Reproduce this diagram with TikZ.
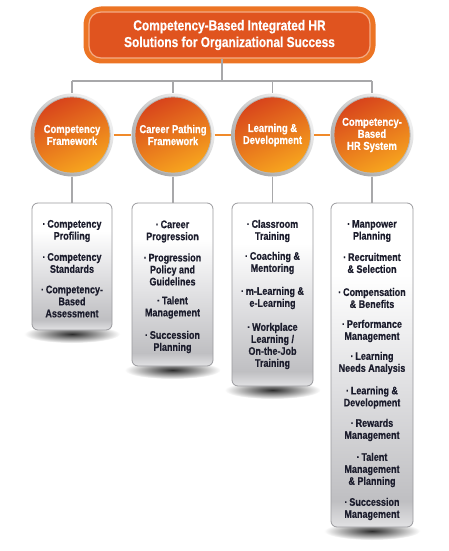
\documentclass[tikz,border=0pt]{standalone}
\usepackage{fontspec}
\setmainfont{Liberation Sans}[FakeStretch=0.82, BoldFeatures={FakeBold=0.5}]
\definecolor{ink}{HTML}{1B1C2C}
\definecolor{gline}{HTML}{A8A8AA}
\definecolor{oline}{HTML}{F08A2A}
\definecolor{topout}{HTML}{EC7424}
\definecolor{topin}{HTML}{E0541F}
\definecolor{toprim}{HTML}{F4AD86}
\definecolor{orgdark}{HTML}{D8451C}
\definecolor{orglight}{HTML}{F7A51E}
\definecolor{bxdark}{HTML}{BFBFC2}
\definecolor{bxmid}{HTML}{E2E2E4}
\definecolor{bxedge}{HTML}{9A9A9E}
\pgfdeclareverticalshading{boxshade}{100bp}{color(0bp)=(bxmid); color(25bp)=(bxmid); color(29bp)=(bxdark); color(48bp)=(bxmid); color(64bp)=(white); color(100bp)=(white)}
\begin{document}
\begin{tikzpicture}[x=1pt,y=-1pt,
  topbox/.style={rounded corners=12pt, minimum width=281pt, minimum height=46pt,
    fill=topin, draw=toprim, line width=1.2pt, line join=round,
    preaction={draw=topout, line width=11pt},
    text=white, align=center, font=\bfseries\fontsize{14.5}{16.7}\selectfont},
  circ/.style={circle, minimum size=83pt, inner sep=0pt,
    shading=axis, top color=gray!8, bottom color=gray!70, shading angle=-45,
    path picture={
      \fill[gray!55] (path picture bounding box.center) circle (38.6pt);
      \shade[top color=orgdark, bottom color=orglight, shading angle=25]
        (path picture bounding box.center) circle (37.6pt);},
    text=white, align=center, font=\bfseries\fontsize{11.5}{12}\selectfont},
  listbox/.style={rounded corners=6pt, draw=bxedge, line width=0.8pt, shading=boxshade},
  item/.style={align=center, inner sep=0pt, text=ink, font=\bfseries\fontsize{11}{12}\selectfont},
  gconn/.style={draw=gline, line width=1.6pt},
  oconn/.style={draw=oline, line width=1.6pt},
  shadow/.style={inner color=gray!35!black, outer color=white}
]
\useasboundingbox (0,0) rectangle (448,551);
\fill[white] (0,0) rectangle (448,551);

% shadows under list boxes
\shade[shadow] (72,334) ellipse (48pt and 9pt);
\shade[shadow] (172.5,370) ellipse (48pt and 9pt);
\shade[shadow] (272.5,390) ellipse (48pt and 9pt);
\shade[shadow] (372,531) ellipse (48pt and 9pt);

% header
\node[topbox] (top) at (229.5,35) {Competency-Based Integrated HR\\Solutions for Organizational Success};

% circles
\coordinate (hub) at (222,81);
\node[circ] (c1) at (72,135) {Competency\\Framework};
\node[circ] (c2) at (173,135) {Career Pathing\\Framework};
\node[circ] (c3) at (272.5,135) {Learning \&\\Development};
\node[circ] (c4) at (372,135) {Competency-\\Based\\HR System};

% list boxes
\node[listbox, minimum width=80pt, minimum height=127pt] (b1) at (72,266.5) {};
\node[listbox, minimum width=81pt, minimum height=163pt] (b2) at (172.5,284.5) {};
\node[listbox, minimum width=81pt, minimum height=183pt] (b3) at (272.5,294.5) {};
\node[listbox, minimum width=82pt, minimum height=324pt] (b4) at (372,365) {};

% connectors
\draw[gconn] (hub |- top.south) -- (hub);
\draw[gconn] (c1.north |- hub) -- (c4.north |- hub);
\draw[gconn] (c1.north |- hub) -- (c1.north);
\draw[gconn] (c2.north |- hub) -- (c2.north);
\draw[gconn] (c3.north |- hub) -- (c3.north);
\draw[gconn] (c4.north |- hub) -- (c4.north);
\draw[gconn] (c1.south) -- (c1.south |- b1.north);
\draw[gconn] (c2.south) -- (c2.south |- b2.north);
\draw[gconn] (c3.south) -- (c3.south |- b3.north);
\draw[gconn] (c4.south) -- (c4.south |- b4.north);
\draw[oconn] (c1.east) -- (c2.west);
\draw[oconn] (c2.east) -- (c3.west);
\draw[oconn] (c3.east) -- (c4.west);

% box 1 items
\node[item] (i11) at (72,231) {·\,Competency\\Profiling};
\node[item] (i12) at (72,263) {·\,Competency\\Standards};
\node[item] (i13) at (72,301.5) {·\,Competency-\\Based\\Assessment};
% box 2 items
\node[item] (i21) at (172.5,231.5) {·\,Career\\Progression};
\node[item] (i22) at (172.5,269.5) {·\,Progression\\Policy and\\Guidelines};
\node[item] (i23) at (172.5,307.5) {·\,Talent\\Management};
\node[item] (i24) at (172.5,342) {·\,Succession\\Planning};
% box 3 items
\node[item] (i31) at (272.5,231) {·\,Classroom\\Training};
\node[item] (i32) at (272.5,263) {·\,Coaching \&\\Mentoring};
\node[item] (i33) at (272.5,298) {·\,m-Learning \&\\e-Learning};
\node[item] (i34) at (272.5,346) {·\,Workplace\\Learning /\\On-the-Job\\Training};
% box 4 items
\node[item] (i41) at (372,231) {·\,Manpower\\Planning};
\node[item] (i42) at (372,263) {·\,Recruitment\\\& Selection};
\node[item] (i43) at (372,298) {·\,Compensation\\\& Benefits};
\node[item] (i44) at (372,331) {·\,Performance\\Management};
\node[item] (i45) at (372,363) {·\,Learning\\Needs Analysis};
\node[item] (i46) at (372,397.5) {·\,Learning \&\\Development};
\node[item] (i47) at (372,430) {·\,Rewards\\Management};
\node[item] (i48) at (372,470) {·\,Talent\\Management\\\& Planning};
\node[item] (i49) at (372,509) {·\,Succession\\Management};
\end{tikzpicture}
\end{document}
